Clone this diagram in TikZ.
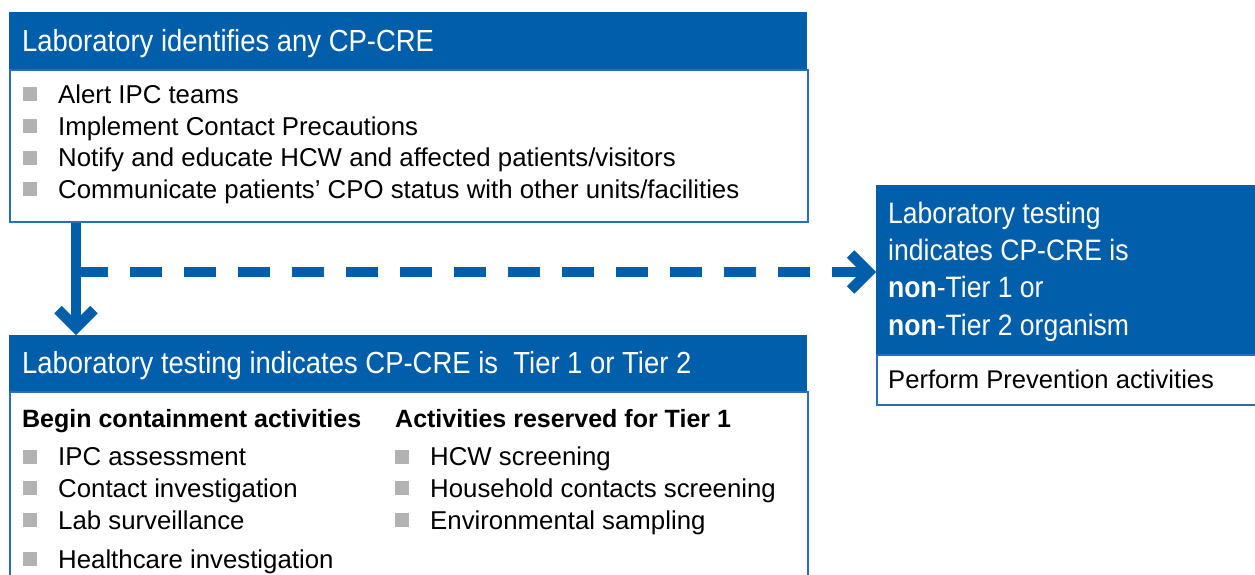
\documentclass[tikz,border=0pt]{standalone}
\usepackage{fontspec}
\setmainfont{Liberation Sans}
\newfontfamily\hdrfont[FakeStretch=0.9]{Liberation Sans}
\usetikzlibrary{arrows.meta, positioning}

\definecolor{cdcblue}{RGB}{0,94,170}
\definecolor{edgeblue}{RGB}{40,110,190}
\definecolor{bulletgray}{RGB}{178,178,178}

\tikzset{
    hdr/.style={fill=cdcblue, anchor=north west, inner sep=0pt},
    panel/.style={draw=edgeblue, line width=1.5pt, fill=white, anchor=north west, inner sep=0pt},
    hdrtext/.style={anchor=base west, inner sep=0pt, text=white, font=\hdrfont\fontsize{30.5pt}{36pt}\selectfont},
    item/.style={anchor=base west, inner sep=0pt, font=\fontsize{25.8pt}{31.7pt}\selectfont},
    subhead/.style={anchor=base west, inner sep=0pt, font=\bfseries\fontsize{25pt}{30pt}\selectfont},
    flow/.style={draw=cdcblue, line width=10.5pt, -{Straight Barb[length=18pt, width=36pt]}},
}

\begin{document}
\begin{tikzpicture}[x=1pt, y=-1pt]
    \useasboundingbox (0,0) rectangle (1255,574);

    % Boxes
    \node[panel, minimum width=798pt, minimum height=152pt] (bodyA) at (9,69) {};
    \node[hdr, minimum width=798pt, minimum height=57pt] (hdrA) at (9,12) {};
    \node[panel, minimum width=798pt, minimum height=200pt] (bodyB) at (9,391) {};
    \node[hdr, minimum width=798pt, minimum height=56pt] (hdrB) at (9,335) {};
    \node[panel, minimum width=390pt, minimum height=50pt] (bodyC) at (876,354) {};
    \node[hdr, minimum width=390pt, minimum height=169pt] (hdrC) at (876,185) {};

    % Titles
    \node[hdrtext] (titleA) at (22,51) {Laboratory identifies any CP-CRE};
    \node[hdrtext] (titleB) at (22,373) {Laboratory testing indicates CP-CRE is~ Tier 1 or Tier 2};
    \node[hdrtext, font=\hdrfont\fontsize{29.5pt}{37.3pt}\selectfont, align=left] (titleC) at (888,335)
        {Laboratory testing\\indicates CP-CRE is\\\textbf{non}-Tier 1 or\\\textbf{non}-Tier 2 organism};
    \node[item, font=\fontsize{25.6pt}{30pt}\selectfont] (prevC) at (888,388) {Perform Prevention activities};

    % First box list
    \foreach \txt [count=\i] in {Alert IPC teams, Implement Contact Precautions,
        {Notify and educate HCW and affected patients/visitors},
        {Communicate patients’ CPO status with other units/facilities}} {
        \node[item] (stepA\i) at (58, {103.3+31.7*(\i-1)}) {\txt};
        \fill[bulletgray] ([shift={(-35,-16)}]stepA\i.base west) rectangle ++(14,14);
    }

    % Containment columns
    \node[subhead] (headL) at (22,427) {Begin containment activities};
    \node[subhead] (headR) at (395,427) {Activities reserved for Tier 1};
    \foreach \y/\txt [count=\i] in {465.7/IPC assessment, 497.3/Contact investigation,
        529.3/Lab surveillance, 568.3/Healthcare investigation} {
        \node[item] (stepL\i) at (58,\y) {\txt};
        \fill[bulletgray] ([shift={(-35,-16)}]stepL\i.base west) rectangle ++(14,14);
    }
    \foreach \y/\txt [count=\i] in {465.7/HCW screening, 497.3/Household contacts screening,
        529.3/Environmental sampling} {
        \node[item] (stepR\i) at (430,\y) {\txt};
        \fill[bulletgray] ([shift={(-35,-16)}]stepR\i.base west) rectangle ++(14,14);
    }

    % Connectors
    \coordinate (fork) at (76,272);
    \draw[flow] (bodyA.south -| fork) -- (hdrB.north -| fork);
    \draw[flow, dash pattern=on 32pt off 22pt] (fork) -- (fork -| hdrC.west);
\end{tikzpicture}
\end{document}
